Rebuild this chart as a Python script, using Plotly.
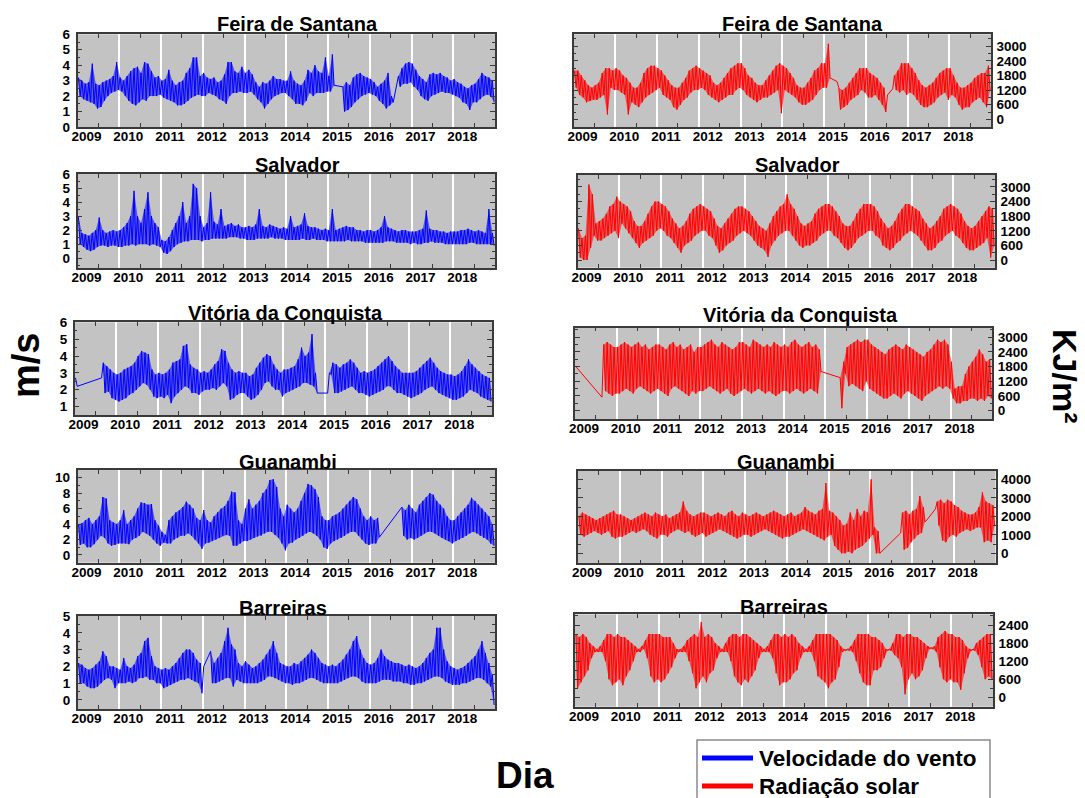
import plotly.graph_objects as go

# ---------------- data (monthly high / low readings, Jan 2009 .. Dec 2018) ----------------
YEARS = list(range(2009, 2019))
N = None

fe_w_hi = [3.2,3.0,2.8,2.9,4.1,2.8,2.7,2.9,3.0,3.1,3.3,4.2,
           3.2,3.0,3.3,3.6,3.8,3.9,3.5,4.2,4.1,3.6,3.2,3.3,
           3.0,3.1,3.7,3.0,2.7,2.9,3.0,3.5,3.8,4.5,4.5,3.3,
           3.5,3.2,3.1,3.2,2.9,3.0,3.4,4.2,4.2,3.6,3.5,3.9,
           3.5,3.7,3.4,2.9,2.6,2.9,2.8,3.0,3.3,3.1,3.1,3.0,
           3.0,3.6,3.0,2.8,2.7,3.0,3.7,3.5,4.0,3.6,3.5,4.5,
           3.3,4.7,N,N,2.6,2.9,2.7,3.2,3.4,3.5,3.3,3.2,
           3.1,2.9,2.6,2.8,3.0,3.5,2.0,N,3.3,3.8,4.1,4.2,
           4.1,3.7,3.3,3.1,2.9,3.4,3.5,3.4,3.5,3.3,3.2,3.0,
           3.1,2.9,2.8,2.6,2.5,2.7,2.8,3.1,3.5,3.3,3.2,3.0]
fe_w_lo = [2.0,1.8,1.7,1.6,1.5,1.2,1.3,1.7,2.0,2.2,2.3,2.4,
           2.3,2.0,1.7,1.5,1.4,1.6,1.8,1.7,2.0,2.0,2.0,2.1,
           1.9,1.8,1.7,1.6,1.4,1.4,1.5,1.7,1.9,2.0,2.1,2.0,
           2.0,2.2,2.1,2.0,1.8,1.7,1.5,2.0,2.2,2.2,2.3,2.2,
           2.2,2.3,2.1,1.8,1.6,1.2,1.5,1.8,2.0,2.1,2.2,2.2,
           2.0,1.8,1.5,1.5,1.4,1.7,2.2,2.0,2.2,2.2,2.2,2.3,
           2.3,2.7,N,N,1.0,1.1,1.3,1.6,1.8,2.0,2.1,2.2,
           2.1,2.0,1.7,1.5,1.2,1.4,1.6,N,2.6,2.8,2.8,2.9,
           2.6,2.4,2.0,1.8,1.7,2.0,2.1,2.2,2.3,2.2,2.2,2.1,
           2.0,1.9,1.6,1.5,1.1,1.6,1.6,1.8,2.0,2.1,2.0,1.6]

fe_s_hi = [2000,2000,1800,1600,1400,1300,1400,1500,1900,2100,2100,2000,
           2100,2000,1800,1700,1500,1300,1300,1500,1900,2100,2200,2200,
           2100,2000,1800,1600,1400,1300,1300,1500,1700,2000,2100,2200,
           2100,2000,1900,1800,1500,1400,1500,1700,1900,2100,2200,2300,
           2300,2100,1800,1700,1500,1400,1400,1600,1800,2000,2200,2300,
           2200,2100,1900,1700,1400,1300,1300,1500,1700,2000,2100,2300,
           2300,3100,N,N,1300,1200,1300,1500,1700,1900,2100,2100,
           2100,1900,1800,1700,1500,1300,1000,N,1800,2000,2300,2300,
           2300,2100,1900,1600,1400,1300,1400,1500,1700,1900,2000,2100,
           2100,1800,1500,1300,1300,1400,1500,1700,1800,1900,1900,2200]
fe_s_lo = [1300,1000,900,700,750,800,800,900,1000,200,1300,1200,
           1200,1100,1000,200,700,600,500,700,900,1000,1100,1200,
           1300,1000,900,800,500,400,600,800,900,1100,1200,1200,
           1300,1200,1000,900,800,700,800,900,1000,1000,1200,1300,
           1200,1000,900,800,700,800,900,900,1000,1100,1200,250,
           1200,1100,1000,900,700,600,600,700,800,1000,1200,1300,
           1300,1700,N,1550,400,500,600,800,900,1000,1200,1100,
           900,900,1000,800,600,300,N,1250,1200,1100,1200,1000,
           1100,1000,800,600,500,500,600,700,900,1000,1100,800,
           1000,900,600,400,500,500,700,800,900,700,500,1200]

sa_w_hi = [3.0,1.8,1.7,1.6,1.8,2.0,2.9,2.0,1.8,1.9,2.0,1.9,
           2.0,2.2,2.5,3.0,4.8,3.0,2.5,3.5,4.7,3.0,2.5,2.2,
           1.3,1.2,1.5,2.0,2.5,3.0,4.0,2.5,3.0,5.3,5.0,3.0,
           2.2,2.5,4.7,2.6,2.4,3.5,2.3,2.4,2.5,2.3,2.4,2.2,
           2.2,2.3,2.2,2.4,3.5,2.3,2.2,2.4,2.3,2.2,2.1,2.2,
           2.1,3.0,2.2,2.3,2.4,3.2,2.3,2.2,2.2,2.1,2.0,2.1,
           2.0,3.5,2.0,2.1,2.2,2.3,2.2,2.2,2.0,2.0,1.9,2.0,
           2.0,1.9,2.0,2.2,3.0,2.2,2.1,2.0,1.9,2.0,2.0,1.9,
           1.9,1.9,2.0,2.1,3.4,2.1,2.0,2.0,1.9,1.9,1.8,1.9,
           1.9,1.9,2.0,2.0,2.1,2.0,1.9,2.0,1.9,1.8,3.5,1.8]
sa_w_lo = [1.0,0.8,0.6,0.5,0.6,0.8,0.9,0.9,0.8,0.9,0.9,0.8,
           0.8,0.9,0.9,1.0,0.9,1.0,1.0,1.0,0.9,1.0,0.9,0.8,
           0.4,0.3,0.5,0.8,1.0,1.1,1.2,1.2,1.3,1.3,1.3,1.2,
           1.3,1.3,1.4,1.4,1.4,1.4,1.4,1.5,1.5,1.5,1.4,1.4,
           1.3,1.3,1.3,1.4,1.4,1.4,1.4,1.5,1.4,1.4,1.4,1.3,
           1.3,1.3,1.3,1.3,1.4,1.3,1.3,1.4,1.3,1.3,1.3,1.2,
           1.2,1.2,1.2,1.2,1.2,1.3,1.2,1.2,1.2,1.2,1.1,1.1,
           1.1,1.1,1.1,1.1,1.2,1.2,1.2,1.1,1.1,1.1,1.1,1.0,
           1.1,1.0,1.0,1.1,1.1,1.2,1.1,1.1,1.1,1.0,1.0,1.0,
           1.0,1.0,1.0,1.0,1.1,1.1,1.0,1.0,1.0,1.0,1.0,0.9]

sa_s_hi = [1300,900,1000,3100,2700,1500,1600,1700,1900,2200,2300,2600,
           2400,2300,2200,2000,1600,1400,1400,1600,1900,2200,2400,2400,
           2300,2200,2000,1700,1500,1300,1400,1600,1900,2100,2200,2300,
           2200,2100,2000,1700,1400,1300,1500,1700,1900,2100,2200,2200,
           2100,2000,1800,1600,1400,1300,1200,1500,1800,2000,2200,2300,
           2700,2300,2100,1800,1500,1400,1500,1600,1900,2100,2200,2300,
           2300,2200,2000,1800,1500,1400,1400,1600,1900,2100,2300,2300,
           2300,2200,2000,1700,1500,1300,1400,1600,1900,2100,2300,2300,
           2200,2100,2000,1700,1500,1300,1400,1600,1800,2100,2200,2300,
           2200,2100,1900,1600,1400,1300,1400,1600,1800,2000,2200,2100]
sa_s_lo = [100,0,0,500,1000,800,800,900,1000,1100,1200,900,
           1500,1300,1100,900,700,500,700,800,900,1000,1200,1300,
           1200,1000,900,700,500,300,600,700,800,1000,1100,1200,
           1200,1000,900,600,300,400,600,700,800,1000,1100,1200,
           1100,1000,800,600,500,400,130,600,800,1000,1100,1200,
           1200,1000,800,600,500,600,600,700,800,1000,1100,1200,
           1200,1000,900,700,500,400,500,700,900,1000,1100,1200,
           1200,1000,900,600,500,400,500,700,800,1000,1100,1200,
           1100,1000,800,600,400,400,500,700,800,1000,1100,1200,
           1000,900,700,500,400,400,500,600,700,900,100,600]

vc_w_hi = [2.7,N,N,N,N,N,N,N,3.6,3.4,3.2,3.0,
           2.9,3.0,3.2,3.3,3.4,3.6,4.0,4.3,4.2,4.1,3.2,2.9,
           3.0,2.9,3.0,3.2,3.6,3.7,3.8,4.6,4.7,3.5,3.3,3.2,
           3.0,3.1,3.0,3.2,3.5,3.7,4.4,4.3,3.6,3.2,3.0,3.1,
           3.0,3.0,2.8,2.9,3.3,3.6,3.9,4.1,4.0,3.5,3.2,3.0,
           3.2,3.2,3.3,3.4,3.8,4.5,4.0,4.2,5.3,3.0,N,N,
           N,3.0,3.6,3.5,3.3,3.5,3.6,3.8,3.6,3.3,3.0,3.1,
           3.0,3.1,3.2,3.4,3.6,3.8,4.0,3.7,3.4,3.2,3.0,3.0,
           3.0,3.0,3.1,3.3,3.5,3.7,3.9,3.6,3.3,3.1,3.0,2.9,
           2.9,2.8,2.9,3.1,3.4,3.8,3.5,3.3,3.1,2.9,2.8,2.7]
vc_w_lo = [2.2,N,N,N,N,N,N,2.7,1.8,1.9,1.5,1.4,
           1.3,1.4,1.5,1.7,1.8,2.0,2.2,2.4,2.3,2.0,1.6,1.5,
           1.6,1.5,1.7,1.2,1.6,1.8,2.0,2.2,2.1,1.8,1.8,1.7,
           1.9,2.0,2.0,2.1,2.0,2.2,2.4,2.2,1.4,1.5,1.7,1.8,
           1.8,1.6,1.4,1.5,1.7,2.0,2.4,2.5,2.2,2.0,2.0,1.6,
           1.8,1.9,2.0,2.1,2.2,2.4,2.4,2.3,2.2,1.8,N,N,
           1.8,2.9,1.8,1.8,1.9,2.0,2.1,2.2,2.0,1.8,1.8,1.7,
           1.6,1.7,1.8,1.9,2.0,2.2,2.2,2.0,1.8,1.8,1.7,1.6,
           1.5,1.6,1.7,1.8,2.0,2.1,2.2,2.0,1.8,1.7,1.6,1.5,
           1.4,1.4,1.5,1.6,1.8,2.0,1.9,1.8,1.6,1.5,1.4,1.3]

vc_s_hi = [1800,N,N,N,N,N,N,N,2700,2800,2700,2600,
           2600,2700,2800,2700,2600,2700,2800,2600,2700,2500,2600,2700,
           2700,2600,2500,2700,2800,2600,2700,2500,2600,2700,2400,2600,
           2600,2700,2800,2900,2700,2600,2800,2700,2600,2500,2600,2800,
           2800,2700,2600,2900,2800,2700,2600,2700,2600,2800,2700,2600,
           2700,2600,2800,2900,2700,2600,2700,2800,2600,2700,2500,N,
           N,N,N,N,1350,2000,2600,2700,2800,2900,2800,2900,
           2900,2700,2600,2500,2400,2300,2500,2600,2700,2600,2500,2700,
           2600,2500,2400,2300,2200,2400,2500,2700,2900,2800,2900,2700,
           2000,900,1000,1000,1500,1800,2000,2200,2500,2300,2000,2100]
vc_s_lo = [N,N,N,N,N,N,N,550,800,700,600,700,
           700,800,900,800,700,900,1000,900,800,700,800,900,
           800,700,600,900,1000,900,800,700,600,800,700,800,
           800,900,1000,900,800,700,800,900,700,600,700,800,
           900,800,700,800,900,800,700,800,700,600,700,800,
           800,700,800,900,800,700,800,900,800,700,1600,N,
           N,N,N,N,100,1500,1000,1100,1000,900,800,1200,
           900,800,700,600,500,500,600,700,600,500,700,800,
           700,600,500,400,600,700,800,900,1000,900,1000,900,
           500,300,300,400,400,500,500,400,500,400,600,500]

gu_w_hi = [4.0,4.1,4.5,4.8,4.0,4.5,5.0,7.5,7.3,4.5,4.2,4.0,
           4.5,5.8,4.0,4.5,5.0,6.0,6.8,6.7,6.5,6.6,4.5,3.8,
           3.0,2.6,4.5,5.0,5.5,5.8,6.2,6.9,6.5,6.0,4.8,4.5,
           5.8,4.5,4.2,5.0,5.5,6.0,6.3,7.0,8.2,8.1,4.5,4.0,
           6.0,7.2,6.0,6.5,7.0,8.0,8.5,9.7,9.8,8.8,6.0,5.0,
           6.5,6.0,5.5,6.0,7.0,8.0,9.2,9.0,8.5,7.5,5.0,4.5,
           4.5,5.0,5.2,5.5,6.0,6.5,7.0,7.5,7.2,6.0,5.0,4.5,
           5.0,4.5,4.8,N,N,N,N,N,N,6.2,5.8,6.5,
           6.0,5.5,6.5,7.0,7.5,8.0,7.8,7.0,6.5,6.0,5.0,4.5,
           4.5,5.0,5.5,6.0,6.5,7.4,7.0,6.5,6.0,5.5,5.0,4.0]
gu_w_lo = [1.3,1.5,1.0,1.0,1.4,2.0,2.5,2.2,1.5,1.2,1.3,1.5,
           1.5,1.5,1.4,2.0,2.2,2.5,3.0,2.8,2.5,2.0,1.5,1.2,
           1.6,1.5,1.5,2.0,2.2,2.5,2.5,2.8,2.5,2.0,1.5,0.8,
           1.5,1.6,1.8,2.0,2.2,2.5,2.6,2.5,1.2,1.2,1.5,1.8,
           1.8,2.0,2.2,2.4,2.5,2.8,3.0,3.0,2.6,2.2,1.5,0.6,
           1.5,1.6,2.0,2.2,2.5,2.8,3.0,2.8,2.5,2.0,1.0,0.8,
           1.5,1.8,2.0,2.2,2.5,2.8,3.0,3.0,2.5,2.0,1.5,1.3,
           1.5,1.5,2.3,N,N,N,N,N,N,2.5,2.0,2.2,
           2.0,2.2,2.5,2.8,3.0,3.0,2.8,2.5,2.2,2.0,1.8,1.5,
           1.8,2.0,2.2,2.5,2.8,3.0,2.8,2.5,2.2,2.0,1.5,1.2]

gu_s_hi = [2000,2200,2100,2000,1900,1800,1900,2000,2100,2200,2300,2100,
           2100,2000,1900,1800,1900,2000,2100,2200,2100,2000,2200,2100,
           2000,2100,1900,2000,2100,2200,2800,2300,2100,2000,2100,2200,
           2200,2100,2000,2100,2200,2100,2000,2200,2300,2100,2000,2200,
           2100,2000,2100,2200,2100,2000,2100,2200,2300,2200,2100,2000,
           2100,2200,2000,2100,2200,2500,2300,2200,2100,2300,2400,3800,
           2300,2200,2000,1800,1500,1600,2200,1800,2400,2000,2300,2200,
           4000,1400,1200,N,N,N,N,N,N,2200,2300,2100,
           2300,2400,3100,2500,1800,N,N,2800,2900,2700,2900,2800,
           2600,2500,2300,2200,2100,2100,2200,2500,3300,2800,2700,2600]
gu_s_lo = [1000,900,1000,1100,1200,1100,1000,1100,1200,900,800,900,
           900,1000,1100,1200,1100,1200,1300,1200,1000,900,800,1000,
           1000,900,1100,1200,1300,1200,1100,1200,1000,900,1000,1100,
           900,1000,1100,1200,1300,1200,1100,1000,900,800,900,1000,
           1000,900,1000,1100,1200,1300,1200,1100,1000,900,800,900,
           900,1000,1100,1200,1300,1200,1100,1000,900,800,700,900,
           1000,400,200,0,0,100,0,200,300,400,600,800,
           1000,0,0,N,N,N,N,N,1100,200,300,600,
           800,1000,1100,1700,N,N,2400,1500,700,600,900,1000,
           900,1100,1200,1300,1200,1300,1400,1400,600,700,600,1500]

ba_w_hi = [2.2,2.1,1.9,1.8,1.9,2.1,2.3,2.9,2.6,2.0,2.0,1.9,
           1.8,2.5,2.0,1.9,2.1,2.6,2.8,3.5,3.7,2.6,2.0,1.9,
           1.8,1.9,1.8,2.0,2.2,2.5,2.8,3.0,3.0,2.8,2.4,2.2,
           2.0,N,2.9,2.2,2.5,2.8,3.5,4.3,3.3,3.0,2.2,2.0,
           2.3,2.1,1.9,2.0,2.2,2.4,2.7,3.0,3.5,2.8,2.2,2.1,
           2.0,2.0,2.2,2.1,2.3,2.5,2.7,3.0,2.8,2.5,2.2,2.1,
           2.0,2.1,2.0,2.2,2.4,2.7,3.0,3.5,3.8,3.0,2.5,2.2,
           2.1,2.2,2.5,3.0,2.6,2.4,2.3,2.2,2.2,2.1,2.0,2.1,
           2.0,1.9,2.0,2.2,2.5,2.8,3.0,4.3,4.3,3.0,2.3,2.0,
           1.9,1.8,1.9,2.0,2.2,2.4,2.6,3.0,3.5,2.8,2.2,1.5]
ba_w_lo = [1.0,1.0,0.8,0.7,0.7,0.8,1.0,1.2,1.3,1.2,0.7,1.0,
           1.0,1.0,1.1,1.0,1.1,1.3,1.3,1.4,1.2,1.2,1.0,1.0,
           0.7,0.8,0.9,1.0,1.1,1.2,1.2,1.3,1.2,1.1,1.0,0.4,
           N,N,1.0,1.0,1.1,1.2,1.3,1.3,0.8,1.2,1.1,1.0,
           1.0,1.0,1.0,1.0,1.1,1.2,1.4,1.4,1.3,1.2,1.1,1.0,
           1.0,0.9,1.0,1.0,1.1,1.2,1.3,1.3,1.2,1.1,1.0,1.0,
           1.0,1.0,1.0,1.1,1.2,1.3,1.4,1.4,1.3,1.1,1.0,1.0,
           1.0,1.0,1.1,1.2,1.2,1.2,1.1,1.1,1.1,1.0,1.0,0.9,
           0.9,1.0,1.0,1.1,1.2,1.3,1.4,1.4,1.3,1.1,1.0,0.9,
           0.9,0.9,1.0,1.0,1.1,1.2,1.3,1.3,1.2,1.0,0.8,-0.3]

ba_s_hi = [2100,2000,2100,2000,1800,1700,1600,1700,1900,2100,2100,2000,
           2100,2000,2000,1900,1800,1700,1600,1700,1900,2100,2100,2100,
           2100,2000,2000,2000,1800,1600,1600,1700,1900,2000,2100,2000,
           2500,2000,2100,2000,1800,1700,1600,1800,2000,2100,2100,2000,
           2100,2100,2000,1900,1800,1700,1600,1700,1900,2100,2100,2000,
           2100,2000,2100,2000,1800,1700,1600,1700,1900,2100,2100,2100,
           2100,2100,2000,1900,1700,1600,1600,1700,1900,2100,2100,2100,
           2100,2000,2000,1900,1800,1600,1600,1800,2100,2100,2000,2100,
           2100,2000,2000,1900,1800,1700,1650,1700,2000,2100,2200,2100,
           2100,2000,2000,1900,1700,1600,1600,1800,1900,2000,2100,2100]
ba_s_lo = [300,500,700,900,1300,1500,1500,1500,1200,600,400,500,
           600,400,700,900,1200,1500,1500,1600,1300,700,500,600,
           500,600,800,1000,1300,1500,1500,1500,1200,800,300,500,
           700,500,800,900,1300,1500,1500,1500,1200,700,500,400,
           600,500,700,900,1300,1500,1500,1500,1300,800,400,500,
           500,600,800,900,1300,1500,1500,1500,1200,700,600,500,
           300,500,600,1000,1500,1550,1550,1500,1200,800,500,400,
           400,900,900,1000,1300,1550,1550,1400,1300,1000,100,600,
           800,600,700,900,1300,1600,1600,1500,1000,600,500,600,
           500,500,250,800,1300,1550,1550,1400,1000,600,700,600]

TITLES = ["Feira de Santana", "Salvador", "Vitória da Conquista", "Guanambi", "Barreiras"]
WIND = [(fe_w_hi, fe_w_lo), (sa_w_hi, sa_w_lo), (vc_w_hi, vc_w_lo), (gu_w_hi, gu_w_lo), (ba_w_hi, ba_w_lo)]
SOLAR = [(fe_s_hi, fe_s_lo), (sa_s_hi, sa_s_lo), (vc_s_hi, vc_s_lo), (gu_s_hi, gu_s_lo), (ba_s_hi, ba_s_lo)]

# ---------------- layout constants (pixels) ----------------
W, H = 1085, 798
LEFT_BOX = [(77.5, 495, 34.3, 127), (77.5, 495, 174, 268), (74.6, 492, 322.3, 415),
            (77.6, 495, 470, 562.7), (77.6, 495, 616, 709)]
RIGHT_BOX = [(573.5, 991, 34.3, 127), (577.6, 995, 175, 267.7), (575, 992.3, 327.7, 419),
             (578, 995.5, 471, 563.3), (575, 993, 614.3, 706.7)]
LEFT_YR = [[0, 6], [-0.7, 6], [0.5, 6], [-1, 11], [-0.54, 5]]
LEFT_TICKS = [[0, 1, 2, 3, 4, 5, 6], [0, 1, 2, 3, 4, 5, 6], [1, 2, 3, 4, 5, 6],
              [0, 2, 4, 6, 8, 10], [0, 1, 2, 3, 4, 5]]
RIGHT_YR = [[-315, 3490], [-315, 3490], [-340, 3390], [-540, 4450], [-312, 2755]]
RIGHT_TICKS = [[0, 600, 1200, 1800, 2400, 3000], [0, 600, 1200, 1800, 2400, 3000],
               [0, 600, 1200, 1800, 2400, 3000], [0, 1000, 2000, 3000, 4000],
               [0, 600, 1200, 1800, 2400]]
LEFT_TITLE = [(297, 24), (297, 165), (285.5, 312.5), (288, 461.5), (283, 608)]
RIGHT_TITLE = [(802, 24), (797, 165), (800, 315), (786, 462), (784, 607)]

FONT = "Liberation Sans, Arial, sans-serif"


def runs(hi, lo):
    """Consecutive month runs where both readings exist."""
    out, cur = [], []
    for m, (h, l) in enumerate(zip(hi, lo)):
        if h is None or l is None:
            if cur:
                out.append(cur)
            cur = []
        else:
            cur.append(m)
    if cur:
        out.append(cur)
    return out


def zigzag(hi, lo):
    xs, ys = [], []
    for m, (h, l) in enumerate(zip(hi, lo)):
        xs += [YEARS[0] + (m + 0.25) / 12, YEARS[0] + (m + 0.75) / 12]
        ys += [h, l]
    return xs, ys


def minor_vals(ticks):
    step = ticks[1] - ticks[0]
    return [t + step / 2 for t in [ticks[0] - step] + ticks]


fig = go.Figure()
layout = dict(width=W, height=H, margin=dict(l=0, r=0, t=0, b=0, pad=0, autoexpand=False),
              autosize=False,
              paper_bgcolor="white", plot_bgcolor="#c3c3c3", showlegend=False,
              font=dict(family=FONT, color="black"))
annotations = []
shapes = []

panels = []
for i in range(5):
    panels.append((LEFT_BOX[i], LEFT_YR[i], LEFT_TICKS[i], WIND[i], (0, 0, 255), "left", LEFT_TITLE[i]))
    panels.append((RIGHT_BOX[i], RIGHT_YR[i], RIGHT_TICKS[i], SOLAR[i], (255, 0, 0), "right", RIGHT_TITLE[i]))

for k, (box, yr, yt, (hi, lo), rgb, side, tpos) in enumerate(panels):
    n = k + 1
    sx = "" if n == 1 else str(n)
    x0, x1, y0, y1 = box
    col = "rgb(%d,%d,%d)" % rgb
    band = "rgba(%d,%d,%d,0.55)" % rgb
    for r in runs(hi, lo):
        fig.add_trace(go.Scatter(x=[YEARS[0] + (m + 0.75) / 12 for m in r], y=[lo[m] for m in r],
                                 mode="lines", line=dict(width=0, color=band), hoverinfo="skip",
                                 xaxis="x" + sx, yaxis="y" + sx))
        fig.add_trace(go.Scatter(x=[YEARS[0] + (m + 0.25) / 12 for m in r], y=[hi[m] for m in r],
                                 mode="lines", fill="tonexty", fillcolor=band,
                                 line=dict(width=0, color=band), hoverinfo="skip",
                                 xaxis="x" + sx, yaxis="y" + sx))
    zx, zy = zigzag(hi, lo)
    fig.add_trace(go.Scatter(x=zx, y=zy, mode="lines", connectgaps=True,
                             line=dict(color=col, width=1), hoverinfo="skip",
                             xaxis="x" + sx, yaxis="y" + sx))
    layout["xaxis" + sx] = dict(
        domain=[x0 / W, x1 / W], anchor="y" + sx, range=[YEARS[0], YEARS[-1] + 1],
        tickmode="array", tickvals=YEARS, ticktext=[str(y) for y in YEARS],
        ticks="", showgrid=True, gridcolor="white", gridwidth=2, zeroline=False,
        showline=True, linecolor="#3a3a3a", linewidth=1.5, mirror="ticks",
        automargin=False, ticklabelshift=9, ticklabelstandoff=-4,
        tickfont=dict(family=FONT, size=13.5, weight="bold", color="black"),
        minor=dict(tickmode="array", tickvals=[y + 0.5 for y in YEARS], ticks="inside",
                   ticklen=4, tickwidth=1, tickcolor="#3a3a3a", showgrid=False))
    layout["yaxis" + sx] = dict(
        domain=[1 - y1 / H, 1 - y0 / H], anchor="x" + sx, range=yr, side=side,
        tickmode="array", tickvals=yt, ticks="inside", ticklen=5, tickwidth=1,
        tickcolor="#3a3a3a", showgrid=False, zeroline=False,
        showline=True, linecolor="#3a3a3a", linewidth=1.5, mirror="ticks",
        automargin=False, ticklabelstandoff=3 if side == "left" else 1,
        tickfont=dict(family=FONT, size=13.5, weight="bold", color="black"),
        minor=dict(tickmode="array", tickvals=minor_vals(yt), ticks="inside",
                   ticklen=3, tickwidth=1, tickcolor="#3a3a3a", showgrid=False))
    annotations.append(dict(text=TITLES[k // 2], x=tpos[0] / W, y=1 - tpos[1] / H,
                            xref="paper", yref="paper", showarrow=False,
                            xanchor="center", yanchor="middle",
                            font=dict(family=FONT, size=20, weight="bold", color="black")))

# axis titles
annotations.append(dict(text="m/s", x=26 / W, y=1 - 366 / H, xref="paper", yref="paper",
                        showarrow=False, textangle=-90, xanchor="center", yanchor="middle",
                        font=dict(family=FONT, size=38, weight="bold", color="black")))
annotations.append(dict(text="KJ/m²", x=1065 / W, y=1 - 376 / H, xref="paper", yref="paper",
                        showarrow=False, textangle=90, xanchor="center", yanchor="middle",
                        font=dict(family=FONT, size=34, weight="bold", color="black")))
annotations.append(dict(text="Dia", x=525 / W, y=1 - 775 / H, xref="paper", yref="paper",
                        showarrow=False, xanchor="center", yanchor="middle",
                        font=dict(family=FONT, size=37, weight="bold", color="black")))

# legend box
shapes.append(dict(type="rect", xref="paper", yref="paper", x0=697 / W, x1=990 / W,
                   y0=1 - 805 / H, y1=1 - 740 / H, line=dict(color="#8a8a8a", width=1.5),
                   fillcolor="white", layer="above"))
LEG = [("Velocidade do vento", "#0000ff", 758), ("Radiação solar", "#ff0000", 786)]
for name, c, yy in LEG:
    shapes.append(dict(type="line", xref="paper", yref="paper", x0=702 / W, x1=753 / W,
                       y0=1 - yy / H, y1=1 - yy / H, line=dict(color=c, width=5)))
    annotations.append(dict(text=name, x=757 / W, y=1 - yy / H, xref="paper", yref="paper",
                            showarrow=False, xanchor="left", yanchor="middle",
                            font=dict(family=FONT, size=22.5, weight="bold", color="black")))

layout["annotations"] = annotations
layout["shapes"] = shapes
fig.update_layout(**layout)
fig.write_html("out.html")
